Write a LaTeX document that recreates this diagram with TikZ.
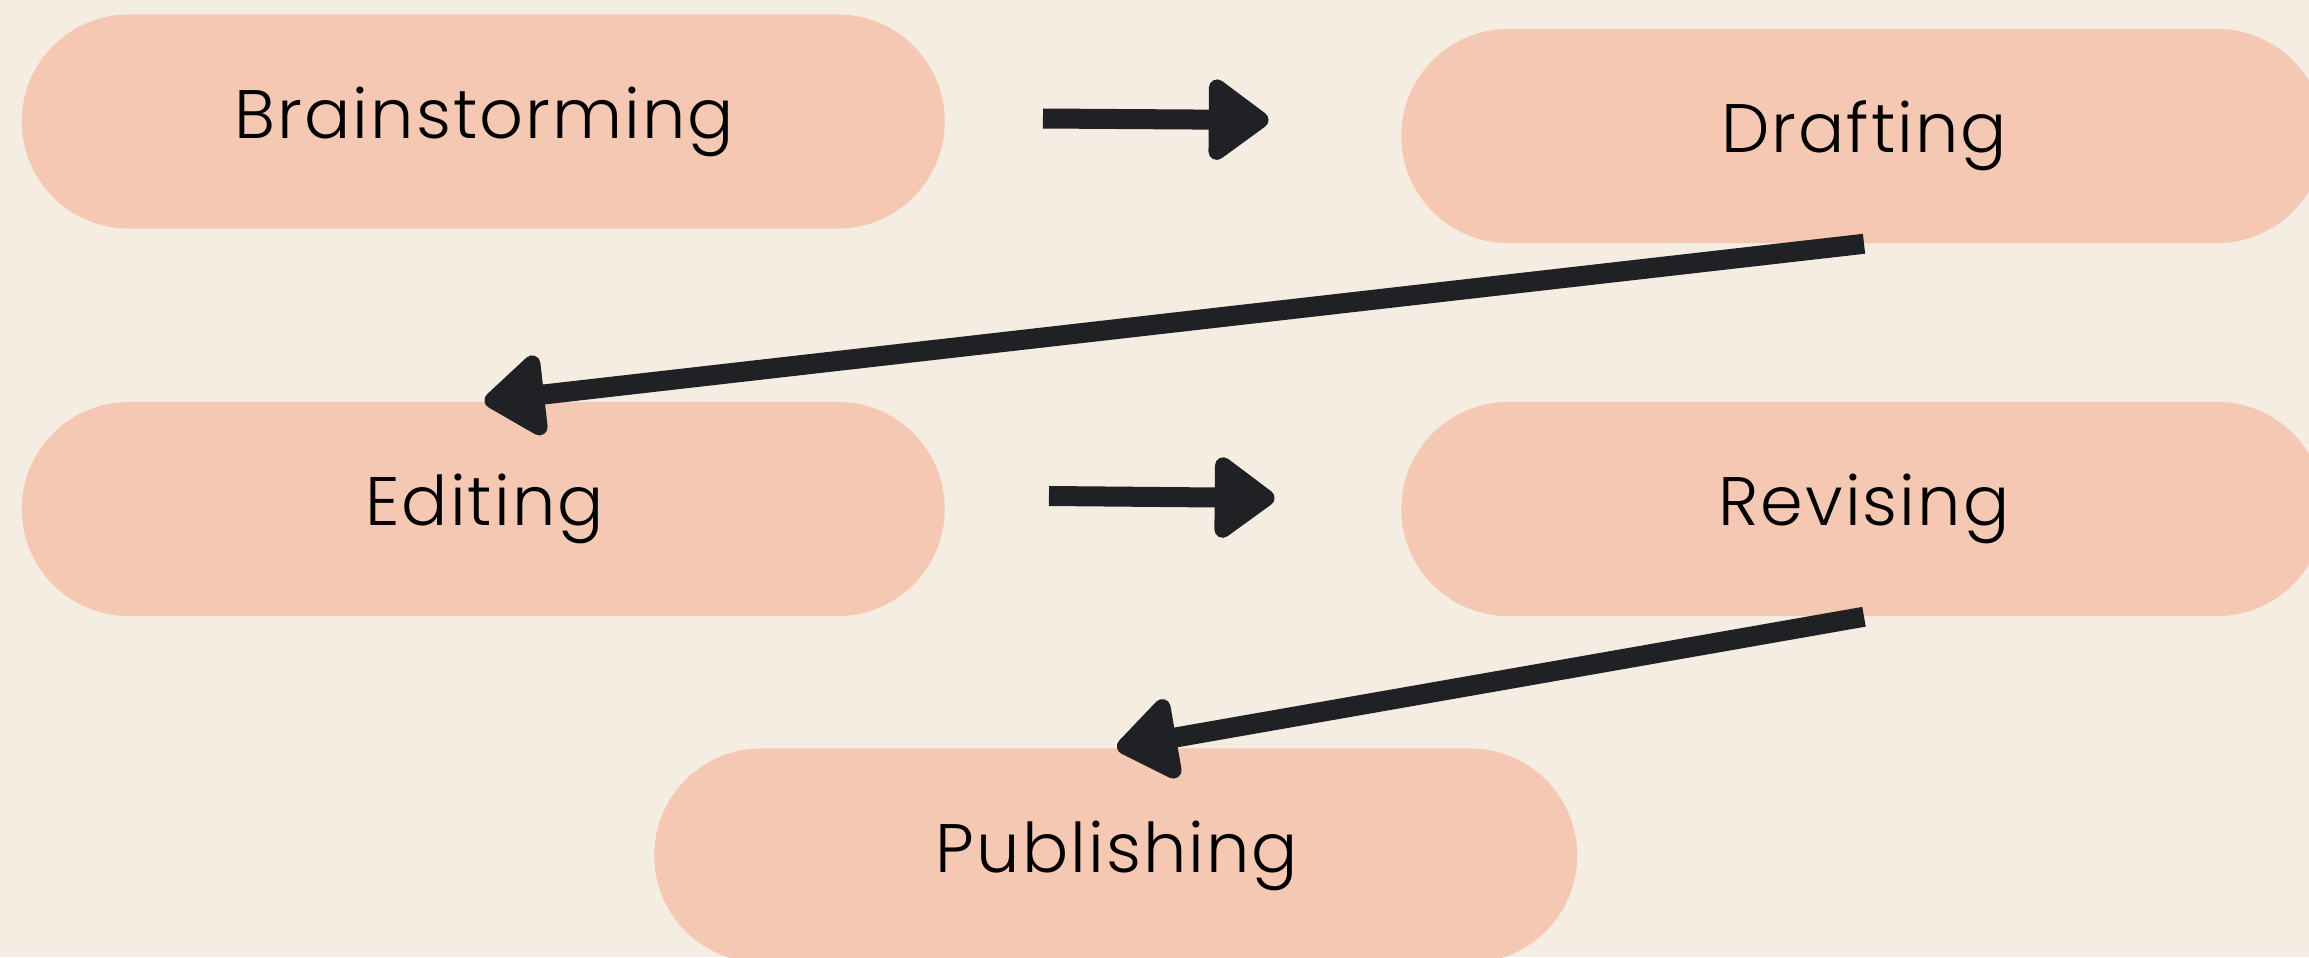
\documentclass[tikz,border=0pt]{standalone}
\usepackage{fontspec}
\setmainfont{Poppins}[UprightFont=* Light,LetterSpace=3]
\usetikzlibrary{calc,arrows.meta}
\definecolor{paper}{HTML}{F5EDE2}
\definecolor{peach}{HTML}{F5C8B4}
\definecolor{ink}{HTML}{202124}
\def\stagenode{\node[rectangle,rounded corners=1.07cm,minimum width=9.25cm,minimum height=2.14cm,inner sep=0pt,font=\fontsize{19.5}{24}\selectfont,path picture={\fill[peach] (path picture bounding box.south west) rectangle ([xshift=-0.025cm]path picture bounding box.north east);}]}
\def\drawflow{\draw[color=ink,line width=0.2cm,-{Triangle[length=0.66cm,width=0.92cm,round]}]}

\begin{document}
\begin{tikzpicture}[x=0.01cm,y=-0.01cm]
\fill[paper] (0,0) rectangle (2309,957);
\useasboundingbox (0,0) rectangle (2309,957);

% the five stages, two per row and one below
\stagenode (brain) at (484.5,121.5) {Brainstorming};
\stagenode (draft) at (1864,136) {Drafting};
\stagenode (edit) at (484.5,509) {Editing};
\stagenode (revise) at (1864,509) {Revising};
\stagenode (publish) at (1117,855.5) {Publishing};

% short arrows along each row
\coordinate (brain_out) at ($ (brain.east) + (95,-3) $);
\coordinate (draft_in) at ($ (draft.west) + (-132,-16) $);
\coordinate (edit_out) at ($ (edit.east) + (101,-13) $);
\coordinate (revise_in) at ($ (revise.west) + (-126,-11) $);
\drawflow (brain_out) -- (draft_in);
\drawflow (edit_out) -- (revise_in);

% long arrows down to the next row
\drawflow (draft.south) -- (edit.north);
\drawflow (revise.south) -- (publish.north);
\end{tikzpicture}
\end{document}
